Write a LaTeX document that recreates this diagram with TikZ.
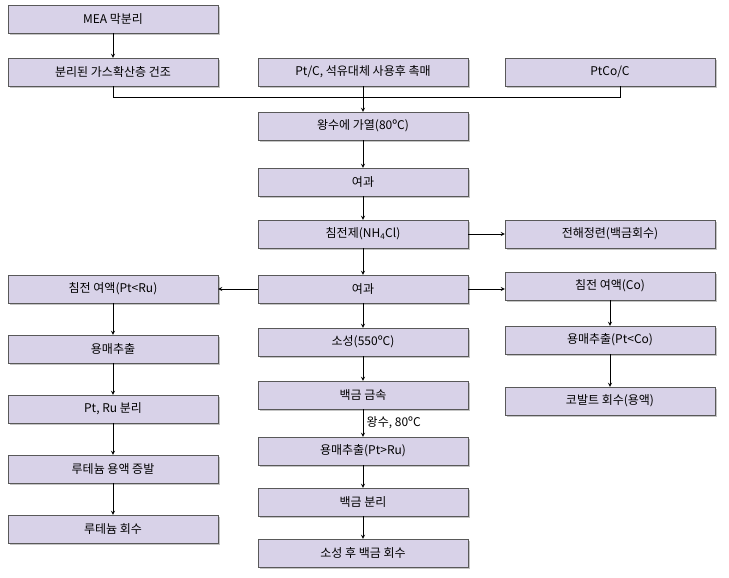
\documentclass[tikz,border=0pt]{standalone}
\usepackage{fontspec}
\setmainfont{Noto Sans CJK KR}
\usetikzlibrary{shadows}
\definecolor{boxfill}{RGB}{216,210,232}
\tikzset{
  stepbox/.style={draw=gray!70!black, fill=boxfill, minimum width=210pt, minimum height=28pt,
    inner sep=0pt, font=\fontsize{12}{14}\selectfont, drop shadow={shadow xshift=2pt, shadow yshift=-2pt, fill=black!45}},
  link/.style={->, >=stealth, thick}
}
\begin{document}
\begin{tikzpicture}[x=1pt, y=-1pt]
\useasboundingbox (0,0) rectangle (729,578);
% left column
\node[stepbox] (mea) at (113,19) {MEA 막분리};
\node[stepbox] (dry) at (113,72) {분리된 가스확산층 건조};
\node[stepbox] (lru) at (113,289) {침전 여액(Pt<Ru)};
\node[stepbox] (lsol) at (113,349) {용매추출};
\node[stepbox] (lsep) at (113,409) {Pt, Ru 분리};
\node[stepbox] (levap) at (113,469) {루테늄 용액 증발};
\node[stepbox] (lrec) at (113,529) {루테늄 회수};
% middle column
\node[stepbox] (ptc) at (363,72) {Pt/C, 석유대체 사용후 촉매};
\node[stepbox] (heat) at (363,126) {왕수에 가열(80ºC)};
\node[stepbox] (filt1) at (363,182) {여과};
\node[stepbox] (prec) at (363,234) {침전제(NH\textsubscript{4}Cl)};
\node[stepbox] (filt2) at (363,289) {여과};
\node[stepbox] (calc) at (363,342) {소성(550ºC)};
\node[stepbox] (metal) at (363,395) {백금 금속};
\node[stepbox] (msol) at (363,451) {용매추출(Pt>Ru)};
\node[stepbox] (msep) at (363,502) {백금 분리};
\node[stepbox] (mrec) at (363,553) {소성 후 백금 회수};
% right column
\node[stepbox] (ptco) at (610,72) {PtCo/C};
\node[stepbox] (elec) at (610,234) {전해정련(백금회수)};
\node[stepbox] (rco) at (610,286) {침전 여액(Co)};
\node[stepbox] (rsol) at (610,340) {용매추출(Pt<Co)};
\node[stepbox] (rrec) at (610,401) {코발트 회수(용액)};
% merge line
\coordinate (jl) at (113,97);
\coordinate (jr) at (620,97);
\coordinate (jm) at (363,97);
\draw[thick] (dry.south) -- (jl) -- (jr) -- (ptco.south -| jr);
\draw[thick] (ptc.south) -- (jm);
\draw[link] (jm) -- (heat);
\draw[link] (mea) -- (dry);
\foreach \a/\b in {heat/filt1, filt1/prec, prec/filt2, filt2/calc, calc/metal, msol/msep, msep/mrec,
  lru/lsol, lsol/lsep, lsep/levap, levap/lrec, rco/rsol, rsol/rrec}
  \draw[link] (\a) -- (\b);
\draw[link] (metal) -- node[right, font=\fontsize{12}{14}\selectfont]{왕수, 80ºC} (msol);
\draw[link] (prec) -- (elec);
\draw[link] (filt2) -- (rco.west |- filt2);
\draw[link] (filt2) -- (lru);
\end{tikzpicture}
\end{document}
